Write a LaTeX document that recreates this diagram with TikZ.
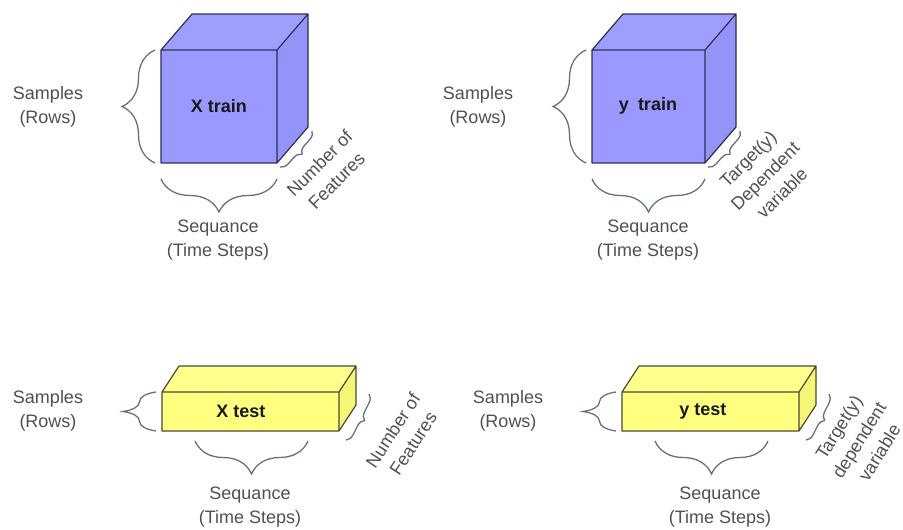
\documentclass[tikz,border=0pt]{standalone}
\usepackage{fontspec}
\setmainfont{Liberation Sans}
\usetikzlibrary{decorations.pathreplacing}
\definecolor{labelgray}{HTML}{505050}
\definecolor{bracegray}{HTML}{687080}
\definecolor{blueface}{HTML}{9999FF}
\definecolor{bluetop}{HTML}{9E9EFF}
\definecolor{blueside}{HTML}{9494F8}
\definecolor{blueedge}{HTML}{2E2E55}
\definecolor{yelface}{HTML}{FFFF80}
\definecolor{yeltop}{HTML}{FFFF8C}
\definecolor{yelside}{HTML}{F6F676}
\definecolor{yeledge}{HTML}{4A4A30}
\tikzset{
  note/.style={text=labelgray, align=center, font=\fontsize{18}{24}\selectfont, inner sep=0pt},
  boxlabel/.style={text=black!90, font=\fontsize{18}{22}\selectfont\bfseries, inner sep=0pt},
  bigbrace/.style={draw=bracegray, line width=1.3pt, decorate, decoration={brace, amplitude=33pt, aspect=0.5}},
  smallbrace/.style={draw=bracegray, line width=1.3pt, decorate, decoration={brace, amplitude=8pt}},
  blueedges/.style={draw=blueedge, line width=1.2pt, line join=round},
  yeledges/.style={draw=yeledge, line width=1.2pt, line join=round}
}
\begin{document}
\begin{tikzpicture}[x=1pt, y=-1pt]
\useasboundingbox (0,0) rectangle (903,530);

% ---------- X train (cube) ----------
\coordinate (xa) at (161,50);  \coordinate (xb) at (277,50);
\coordinate (xc) at (277,163); \coordinate (xd) at (161,163);
\coordinate (xe) at (192,14);  \coordinate (xf) at (308,14);
\coordinate (xg) at (308,127);
\fill[bluetop] (xa) -- (xe) -- (xf) -- (xb) -- cycle;
\fill[blueside] (xb) -- (xf) -- (xg) -- (xc) -- cycle;
\fill[blueface] (xa) rectangle (xc);
\draw[blueedges] (xa) -- (xe) -- (xf) -- (xb) (xf) -- (xg) -- (xc) (xa) rectangle (xc);
\node[boxlabel] (xtrain) at (219,106) {X train};

% ---------- y train (cube) ----------
\coordinate (ya) at (592,50);  \coordinate (yb) at (705,50);
\coordinate (yc) at (705,163); \coordinate (yd) at (592,163);
\coordinate (ye) at (623,14);  \coordinate (yf) at (736,14);
\coordinate (yg) at (736,127);
\fill[bluetop] (ya) -- (ye) -- (yf) -- (yb) -- cycle;
\fill[blueside] (yb) -- (yf) -- (yg) -- (yc) -- cycle;
\fill[blueface] (ya) rectangle (yc);
\draw[blueedges] (ya) -- (ye) -- (yf) -- (yb) (yf) -- (yg) -- (yc) (ya) rectangle (yc);
\node[boxlabel] (ytrain) at (648,106) {y\hspace{4pt} train};

% ---------- X test (flat box) ----------
\coordinate (pa) at (162,392); \coordinate (pb) at (339,392);
\coordinate (pc) at (339,431); \coordinate (pd) at (162,431);
\coordinate (pe) at (179,366); \coordinate (pf) at (356,366);
\coordinate (pg) at (356,405);
\fill[yeltop] (pa) -- (pe) -- (pf) -- (pb) -- cycle;
\fill[yelside] (pb) -- (pf) -- (pg) -- (pc) -- cycle;
\fill[yelface] (pa) rectangle (pc);
\draw[yeledges] (pa) -- (pe) -- (pf) -- (pb) (pf) -- (pg) -- (pc) (pa) rectangle (pc);
\node[boxlabel] (xtest) at (241,411) {X test};

% ---------- y test (flat box) ----------
\coordinate (qa) at (622,392); \coordinate (qb) at (799,392);
\coordinate (qc) at (799,431); \coordinate (qd) at (622,431);
\coordinate (qe) at (639,366); \coordinate (qf) at (816,366);
\coordinate (qg) at (816,405);
\fill[yeltop] (qa) -- (qe) -- (qf) -- (qb) -- cycle;
\fill[yelside] (qb) -- (qf) -- (qg) -- (qc) -- cycle;
\fill[yelface] (qa) rectangle (qc);
\draw[yeledges] (qa) -- (qe) -- (qf) -- (qb) (qf) -- (qg) -- (qc) (qa) rectangle (qc);
\node[boxlabel] (ytest) at (703,411) {y test};

% ---------- braces ----------
% sample braces (left of each box)
\coordinate (b1s) at (155,163); \coordinate (b1e) at (155,50);
\draw[bigbrace] (b1s) -- (b1e);
\coordinate (b2s) at (586,163); \coordinate (b2e) at (586,50);
\draw[bigbrace] (b2s) -- (b2e);
\coordinate (b3s) at (156,431); \coordinate (b3e) at (156,392);
\draw[bigbrace] (b3s) -- (b3e);
\coordinate (b4s) at (616,431); \coordinate (b4e) at (616,392);
\draw[bigbrace] (b4s) -- (b4e);

% sequence braces (below each box)
\coordinate (s1s) at (277,179); \coordinate (s1e) at (161,179);
\draw[bigbrace] (s1s) -- (s1e);
\coordinate (s2s) at (705,179); \coordinate (s2e) at (592,179);
\draw[bigbrace] (s2s) -- (s2e);
\coordinate (s3s) at (308,441); \coordinate (s3e) at (195,441);
\draw[bigbrace] (s3s) -- (s3e);
\coordinate (s4s) at (768,441); \coordinate (s4e) at (655,441);
\draw[bigbrace] (s4s) -- (s4e);

% depth braces (feature / target axis)
\coordinate (d1s) at (312,131); \coordinate (d1e) at (280,167);
\draw[smallbrace] (d1s) -- (d1e);
\coordinate (d2s) at (740,131); \coordinate (d2e) at (708,167);
\draw[smallbrace] (d2s) -- (d2e);
\coordinate (d3s) at (369,394); \coordinate (d3e) at (346,440);
\draw[smallbrace] (d3s) -- (d3e);
\coordinate (d4s) at (829,394); \coordinate (d4e) at (806,440);
\draw[smallbrace] (d4s) -- (d4e);

% ---------- axis texts ----------
\node[note] (samp1) at (48,107) {Samples\\(Rows)};
\node[note] (samp2) at (478,107) {Samples\\(Rows)};
\node[note] (samp3) at (48,411) {Samples\\(Rows)};
\node[note] (samp4) at (508,411) {Samples\\(Rows)};

\node[note] (seq1) at (218,240) {Sequance\\(Time Steps)};
\node[note] (seq2) at (648,240) {Sequance\\(Time Steps)};
\node[note] (seq3) at (250,507) {Sequance\\(Time Steps)};
\node[note] (seq4) at (720,507) {Sequance\\(Time Steps)};

\node[note, rotate=45] (feat1) at (328,172) {Number of\\Features};
\node[note, rotate=45] (targ1) at (765,176) {Target(y)\\Dependent\\variable};
\node[note, rotate=57] (feat2) at (403,437) {Number of\\Features};
\node[note, rotate=58] (targ2) at (859,440) {Target(y)\\dependent\\variable};
\end{tikzpicture}
\end{document}
